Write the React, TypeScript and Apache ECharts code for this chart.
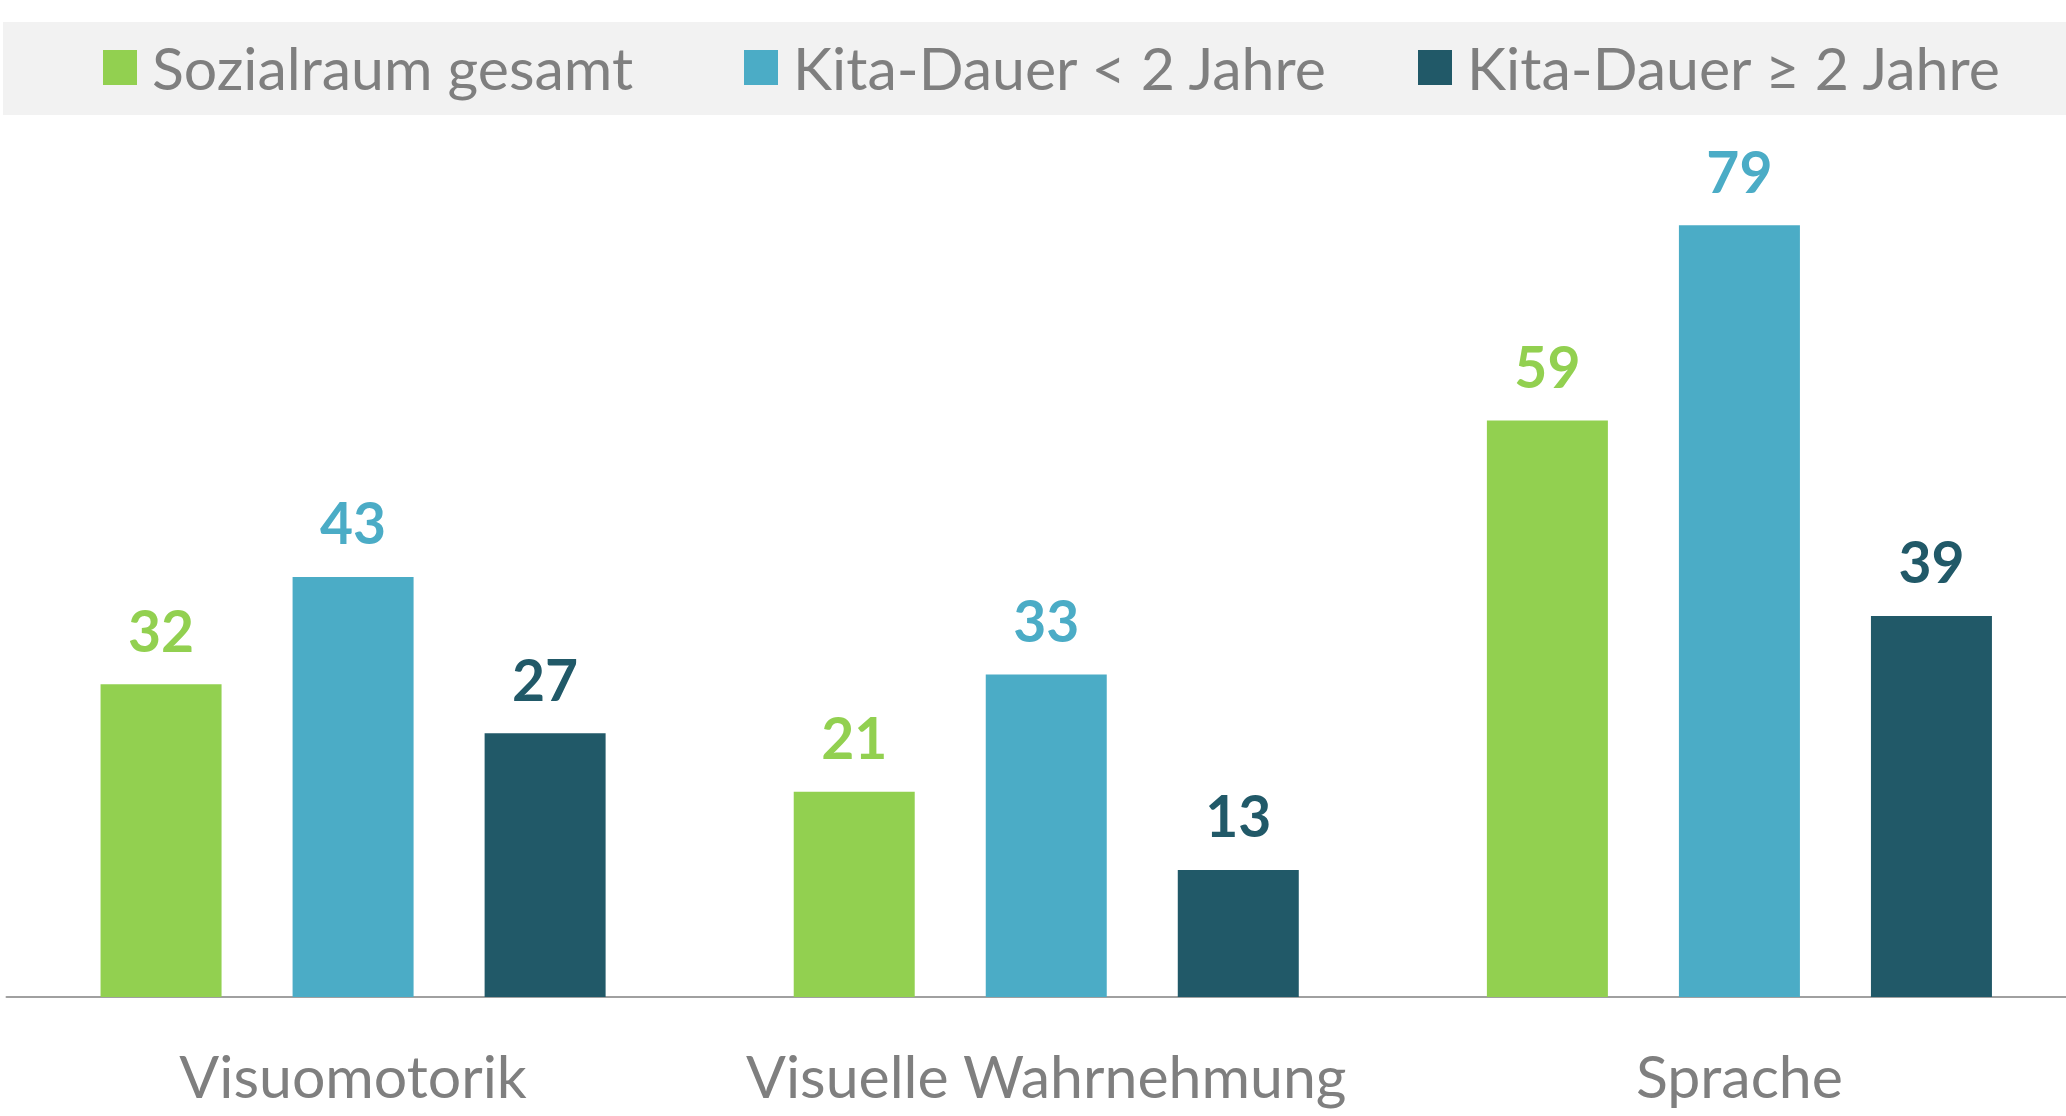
import React, { useEffect, useRef } from "react";
import * as echarts from "echarts";

const categories = ["Visuomotorik", "Visuelle Wahrnehmung", "Sprache"];
const seriesNames = ["Sozialraum gesamt", "Kita-Dauer < 2 Jahre", "Kita-Dauer \u2265 2 Jahre"];
const sozialraum = [32, 21, 59];
const kitaUnter2 = [43, 33, 79];
const kitaAb2 = [27, 13, 39];
const colors = ["#92D050", "#4BACC6", "#215968"];
const legendLefts = [103, 744, 1418];

const FONT = "Lato";

export default function App() {
  const ref = useRef<HTMLDivElement>(null);
  useEffect(() => {
    if (!ref.current) return;
    const chart = echarts.init(ref.current, null, { renderer: "svg" });
    const data = [sozialraum, kitaUnter2, kitaAb2];
    chart.setOption({
      animation: false,
      backgroundColor: "#ffffff",
      textStyle: { fontFamily: FONT },
      graphic: [
        {
          type: "rect",
          left: 3,
          top: 22,
          shape: { width: 2063, height: 93 },
          style: { fill: "#F2F2F2" },
          z: -10,
        },
      ],
      legend: seriesNames.map((name, i) => ({
        data: [name],
        left: legendLefts[i],
        top: 35,
        padding: 0,
        itemWidth: 34,
        itemHeight: 35,
        icon: "rect",
        itemGap: 0,
        selectedMode: false,
        textStyle: {
          fontFamily: FONT,
          fontSize: 59,
          color: "#7F7F7F",
          lineHeight: 59,
          padding: [0, 0, 6, 10],
        },
      })),
      grid: { left: 6.5, right: 0, top: 20, bottom: 119 },
      xAxis: {
        type: "category",
        data: categories,
        axisLine: { show: true, lineStyle: { color: "#A0A0A0", width: 2 } },
        axisTick: { show: false },
        axisLabel: {
          interval: 0,
          fontFamily: FONT,
          fontSize: 59,
          color: "#7F7F7F",
          margin: 49,
        },
      },
      yAxis: {
        type: "value",
        min: 0,
        max: 100,
        show: false,
        splitLine: { show: false },
      },
      series: seriesNames.map((name, i) => ({
        name,
        type: "bar",
        data: data[i],
        barWidth: 121,
        barGap: "58.7%",
        itemStyle: { color: colors[i] },
        label: {
          show: true,
          position: "top",
          distance: 26,
          fontFamily: FONT,
          fontWeight: "bold",
          fontSize: 57,
          color: colors[i],
        },
      })),
    });
    return () => chart.dispose();
  }, []);
  return (
    <div
      style={{
        position: "fixed",
        left: 0,
        top: 0,
        width: 2066,
        height: 1116,
        overflow: "hidden",
        background: "#fff",
      }}
    >
      <div ref={ref} style={{ width: 2086, height: 1116 }} />
    </div>
  );
}
